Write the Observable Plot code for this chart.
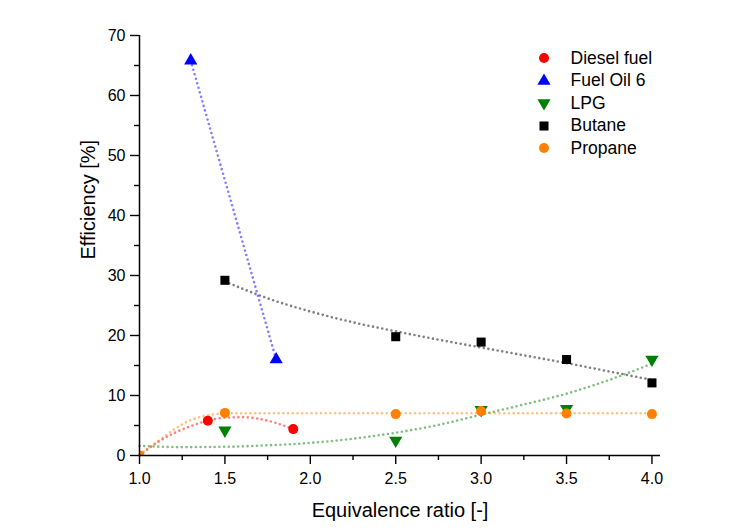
<!DOCTYPE html>
<html><head><meta charset="utf-8">
<script src="https://cdn.jsdelivr.net/npm/d3@7"></script>
<script src="https://cdn.jsdelivr.net/npm/@observablehq/plot@0.6"></script>
<style>
body{margin:0;background:#fff;font-family:"Liberation Sans",Arial,sans-serif}
#wrap{position:relative;width:748px;height:531px}
#legend{position:absolute;left:534px;top:47px;font-size:17.5px;color:#000}
.row{display:flex;align-items:center;height:22.5px}
.row svg{width:20px;height:20px;margin-right:16.5px;overflow:visible}
</style></head><body><div id="wrap"></div>
<script>
// ---- data ----
const seriesNames = ["Diesel fuel", "Fuel Oil 6", "LPG", "Butane", "Propane"];
const dieselX = [1.4, 1.9];
const dieselY = [5.8, 4.4];
const fuelOilX = [1.3, 1.8];
const fuelOilY = [65.8, 16.0];
const lpgX = [1.5, 2.5, 3.0, 3.5, 4.0];
const lpgY = [4.2, 2.5, 7.6, 7.8, 16.0];
const butaneX = [1.5, 2.5, 3.0, 3.5, 4.0];
const butaneY = [29.2, 19.8, 18.9, 16.0, 12.1];
const propaneX = [1.0, 1.5, 2.5, 3.0, 3.5, 4.0];
const propaneY = [0.0, 7.1, 6.9, 7.4, 7.0, 6.9];

// fitted curves
const dieselFitX = [1.0, 1.1, 1.2, 1.3, 1.4, 1.5, 1.6, 1.7, 1.8, 1.9];
const dieselFitY = [0.0, 2.1, 3.7, 4.9, 5.8, 6.3, 6.4, 6.1, 5.4, 4.4];
const fuelOilFitX = [1.3, 1.8];
const fuelOilFitY = [65.8, 16.0];
const lpgFitX = [1.0, 1.25, 1.5, 1.75, 2.0, 2.25, 2.5, 2.75, 3.0, 3.25, 3.5, 3.75, 4.0];
const lpgFitY = [1.6, 1.4, 1.45, 1.7, 2.1, 2.8, 3.8, 5.1, 6.8, 8.5, 10.3, 12.6, 15.3];
const butaneFitX = [1.5, 1.75, 2.0, 2.25, 2.5, 2.75, 3.0, 3.25, 3.5, 3.75, 4.0];
const butaneFitY = [29.0, 26.2, 24.0, 22.2, 20.7, 19.3, 18.0, 16.7, 15.4, 14.0, 12.6];
const propaneFitX = [1.0, 1.1, 1.2, 1.3, 1.4, 1.5, 1.6, 4.0];
const propaneFitY = [0.2, 2.2, 4.3, 5.9, 6.7, 7.0, 7.05, 7.05];

const xTicks = [1.0, 1.5, 2.0, 2.5, 3.0, 3.5, 4.0];
const xMinor = [1.25, 1.75, 2.25, 2.75, 3.25, 3.75];
const yTicks = [0, 10, 20, 30, 40, 50, 60, 70];
const yMinor = [5, 15, 25, 35, 45, 55, 65];
const xTitle = "Equivalence ratio [-]";
const yTitle = "Efficiency [%]";

// ---- build tables ----
const pts = (xs, ys) => xs.map((x, i) => ({x, y: ys[i]}));
const colors = {"Diesel fuel": "#ff0000", "Fuel Oil 6": "#0000ff", "LPG": "#008000", "Butane": "#000000", "Propane": "#ff8000"};
const symbols = {"Diesel fuel": "circle", "Fuel Oil 6": "triangle", "LPG": "triangle", "Butane": "square", "Propane": "circle"};
const rotates = {"Diesel fuel": 0, "Fuel Oil 6": 0, "LPG": 180, "Butane": 0, "Propane": 0};
const radii = {"Diesel fuel": 5.0, "Fuel Oil 6": 4.9, "LPG": 4.9, "Butane": 5.1, "Propane": 5.0};

const fits = [
  {name: "Diesel fuel", data: pts(dieselFitX, dieselFitY), curve: "monotone-x"},
  {name: "Fuel Oil 6", data: pts(fuelOilFitX, fuelOilFitY), curve: "linear"},
  {name: "LPG", data: pts(lpgFitX, lpgFitY), curve: "monotone-x"},
  {name: "Butane", data: pts(butaneFitX, butaneFitY), curve: "monotone-x"},
  {name: "Propane", data: pts(propaneFitX, propaneFitY), curve: "monotone-x"}
];
const scatter = [
  {name: "Diesel fuel", data: pts(dieselX, dieselY)},
  {name: "Fuel Oil 6", data: pts(fuelOilX, fuelOilY)},
  {name: "LPG", data: pts(lpgX, lpgY)},
  {name: "Butane", data: pts(butaneX, butaneY)},
  {name: "Propane", data: pts(propaneX, propaneY)}
];

const font = "Liberation Sans, Arial, sans-serif";
const chart = Plot.plot({
  width: 748, height: 531,
  marginLeft: 139, marginRight: 88, marginTop: 35, marginBottom: 76,
  style: {fontFamily: font, fontSize: "16px", color: "#000", background: "#fff"},
  x: {domain: [1, 4.05]},
  y: {domain: [0, 70]},
  marks: [
    ...fits.map(f => Plot.line(f.data, {x: "x", y: "y", curve: f.curve, stroke: colors[f.name], strokeOpacity: 0.5,
      strokeWidth: 2.6, strokeDasharray: "0,4.7", strokeLinecap: "round"})),
    ...scatter.map(s => Plot.dot(s.data, {x: "x", y: "y", symbol: () => symbols[s.name], fill: colors[s.name],
      r: radii[s.name], rotate: rotates[s.name], clip: true})),
    Plot.axisX({ticks: xTicks, tickFormat: d => d.toFixed(1), tickSize: 9, tickPadding: 8, label: null, fontSize: 16, strokeWidth: 1.4}),
    Plot.axisX({ticks: xMinor, tickFormat: () => "", tickSize: 5, label: null, strokeWidth: 1.4}),
    Plot.axisY({ticks: yTicks, tickSize: 9, tickPadding: 5, label: null, fontSize: 16, strokeWidth: 1.4}),
    Plot.axisY({ticks: yMinor, tickFormat: () => "", tickSize: 5, label: null, strokeWidth: 1.4}),
    Plot.ruleX([1], {strokeWidth: 1.5}),
    Plot.ruleY([0], {strokeWidth: 1.5}),
    Plot.text([xTitle], {text: d => d, frameAnchor: "bottom", lineAnchor: "middle", dy: 55, fontSize: 20}),
    Plot.text([yTitle], {text: d => d, frameAnchor: "left", lineAnchor: "middle", dx: -51, dy: 14, rotate: -90, fontSize: 20})
  ]
});
const wrap = document.getElementById("wrap");
wrap.appendChild(chart);

// legend overlay
const legend = document.createElement("div");
legend.id = "legend";
for (const name of seriesNames) {
  const row = document.createElement("div");
  row.className = "row";
  const svg = d3.create("svg").attr("viewBox", "-10 -10 20 20");
  const sym = {circle: d3.symbolCircle, triangle: d3.symbolTriangle, square: d3.symbolSquare}[symbols[name]];
  svg.append("path").attr("d", d3.symbol(sym, Math.PI * radii[name] ** 2)())
    .attr("fill", colors[name]).attr("transform", `rotate(${rotates[name]})`);
  row.appendChild(svg.node());
  const t = document.createElement("span");
  t.textContent = name;
  row.appendChild(t);
  legend.appendChild(row);
}
wrap.appendChild(legend);
</script>
</body></html>
